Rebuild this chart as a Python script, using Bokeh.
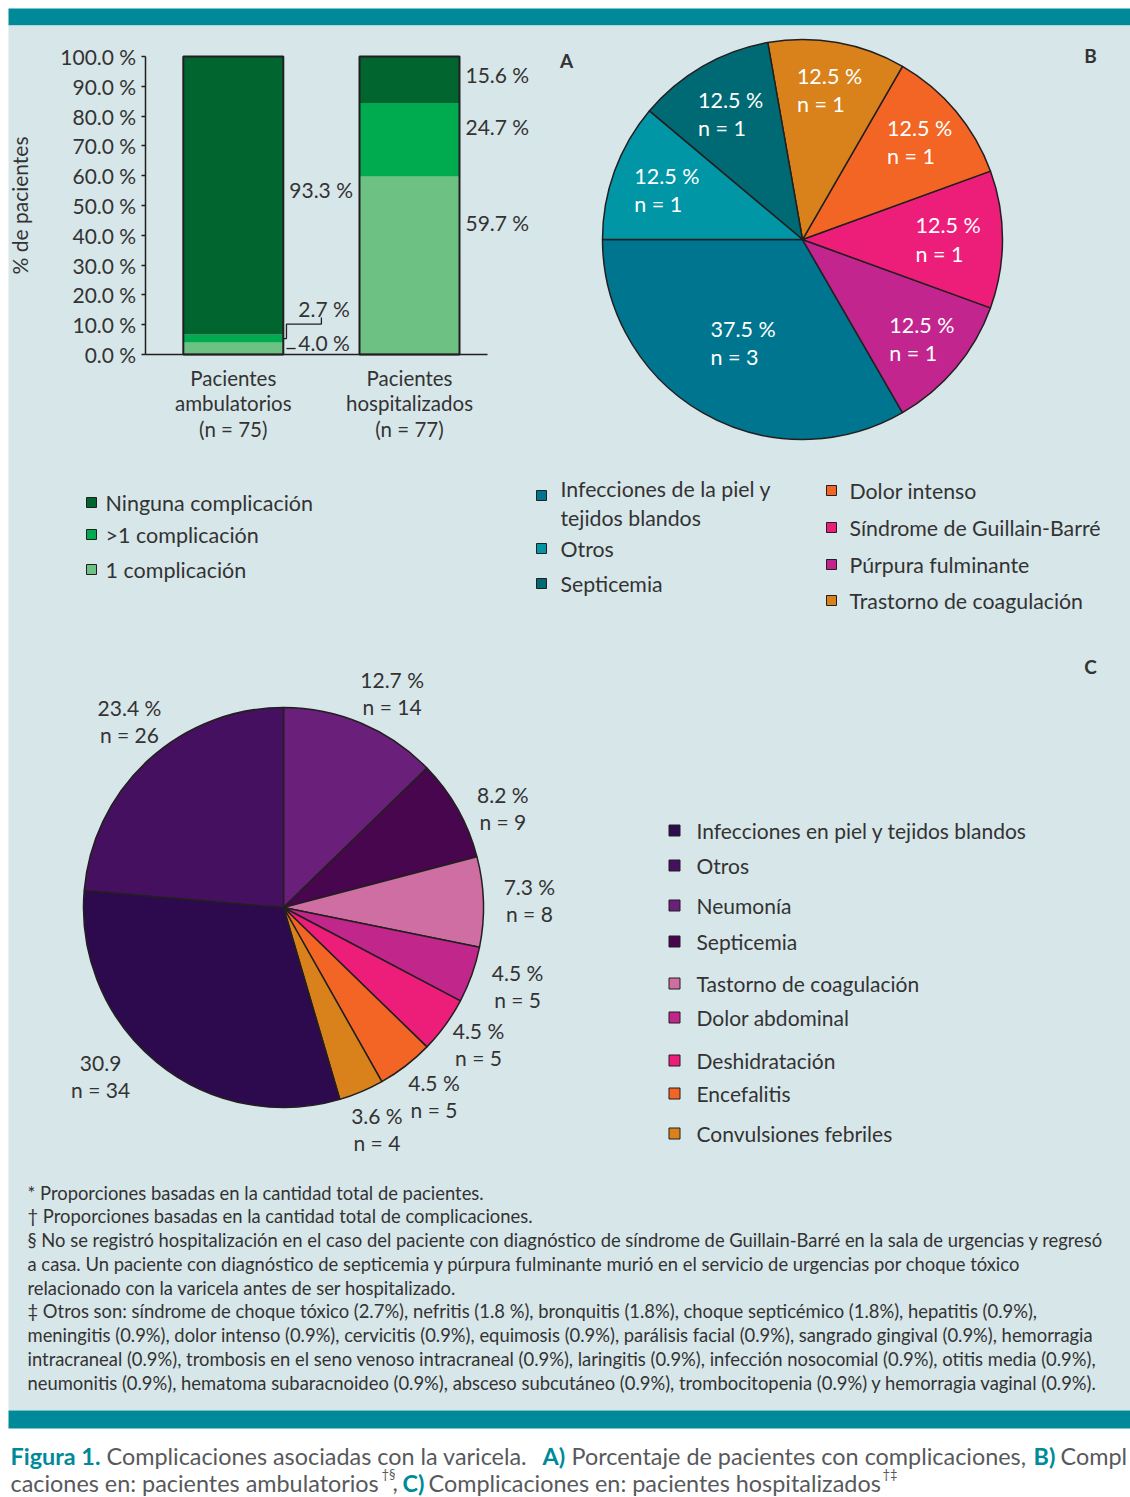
import numpy as np
from bokeh.plotting import figure
from bokeh.models import Range1d, LinearAxis, FixedTicker, BoxAnnotation, ColumnDataSource
from bokeh.core.properties import value
from bokeh.embed import file_html
from bokeh.resources import INLINE

FONT = "Lato"
INK = "#333333"
EDGE = "#231f20"
TEAL = "#008a99"
BG = "#d7e6e9"
CAP_GREY = "#58595b"
LH = 1.08   # multi-line spacing

# ---------------- data ----------------
# Panel A : stacked bars
bar_groups = ["Pacientes\nambulatorios\n(n = 75)", "Pacientes\nhospitalizados\n(n = 77)"]
series_names = ["1 complicación", ">1 complicación", "Ninguna complicación"]
one_comp = [4.0, 59.7]
multi_comp = [2.7, 24.7]
no_comp = [93.3, 15.6]
bar_colors = ["#6dc283", "#00aa4f", "#00652f"]
y_ticks = [0, 10, 20, 30, 40, 50, 60, 70, 80, 90, 100]
y_tick_labels = ["0.0 %", "10.0 %", "20.0 %", "30.0 %", "40.0 %", "50.0 %",
                 "60.0 %", "70.0 %", "80.0 %", "90.0 %", "100.0 %"]

# Panel B : complications, outpatients (pie drawn by n)
b_cats = ["Infecciones de la piel y\ntejidos blandos", "Púrpura fulminante",
          "Síndrome de Guillain-Barré", "Dolor intenso", "Trastorno de coagulación",
          "Septicemia", "Otros"]
b_n = [3, 1, 1, 1, 1, 1, 1]
b_pct = ["37.5 %", "12.5 %", "12.5 %", "12.5 %", "12.5 %", "12.5 %", "12.5 %"]
b_colors = ["#00758f", "#c2258d", "#ed1e7a", "#f26524", "#d9821b", "#006a74", "#0096a6"]
b_legend_order = [[0, 6, 5], [3, 2, 1, 4]]

# Panel C : complications, hospitalised (pie drawn by n)
c_cats = ["Neumonía", "Septicemia", "Tastorno de coagulación", "Dolor abdominal",
          "Deshidratación", "Encefalitis", "Convulsiones febriles",
          "Infecciones en piel y tejidos blandos", "Otros"]
c_n = [14, 9, 8, 5, 5, 5, 4, 34, 26]
c_pct = ["12.7 %", "8.2 %", "7.3 %", "4.5 %", "4.5 %", "4.5 %", "3.6 %", "30.9", "23.4 %"]
c_colors = ["#6a1f7b", "#47064d", "#cf6ea3", "#c1268b", "#ed1e7a", "#f26524",
            "#d9821b", "#2d0a4d", "#451060"]
c_legend_order = [7, 8, 0, 1, 2, 3, 4, 5, 6]

footnotes = [
    "* Proporciones basadas en la cantidad total de pacientes.",
    "† Proporciones basadas en la cantidad total de complicaciones.",
    "§ No se registró hospitalización en el caso del paciente con diagnóstico de síndrome de Guillain-Barré en la sala de urgencias y regresó",
    "a casa. Un paciente con diagnóstico de septicemia y púrpura fulminante murió en el servicio de urgencias por choque tóxico",
    "relacionado con la varicela antes de ser hospitalizado.",
    "‡ Otros son: síndrome de choque tóxico (2.7%), nefritis (1.8 %), bronquitis (1.8%), choque septicémico (1.8%), hepatitis (0.9%),",
    "meningitis (0.9%), dolor intenso (0.9%), cervicitis (0.9%), equimosis (0.9%), parálisis facial (0.9%), sangrado gingival (0.9%), hemorragia",
    "intracraneal (0.9%), trombosis en el seno venoso intracraneal (0.9%), laringitis (0.9%), infección nosocomial (0.9%), otitis media (0.9%),",
    "neumonitis (0.9%), hematoma subaracnoideo (0.9%), absceso subcutáneo (0.9%), trombocitopenia (0.9%) y hemorragia vaginal (0.9%).",
]

caption_line1 = [("Figura 1.", True), ("Complicaciones asociadas con la varicela.", False),
                 ("A)", True), ("Porcentaje de pacientes con complicaciones,", False),
                 ("B)", True), ("Compl", False)]
caption_line2 = [("caciones en: pacientes ambulatorios", False), ("†§", "sup"), (",", False),
                 ("C)", True), ("Complicaciones en: pacientes hospitalizados", False), ("†‡", "sup")]

# ---------------- canvas (data units = page pixels) ----------------
W, H = 1130, 1497
p = figure(width=W, height=H, x_range=Range1d(0, W), y_range=Range1d(H, 0),
           output_backend="svg", toolbar_location=None,
           x_axis_location=None, y_axis_location=None, min_border=0,
           background_fill_color="white", border_fill_color="white")
p.outline_line_color = None
p.grid.visible = False

# frame bands
for top, bottom, col in [(8, 25, TEAL), (25, 1410, BG), (1410, 1428, TEAL)]:
    p.add_layout(BoxAnnotation(left=8, right=W, top=top, bottom=bottom, fill_color=col,
                               fill_alpha=1, line_color=None, level="underlay"))

# ---------------- panel A ----------------
PX0, PX100 = 354.0, 56.0
s = (PX0 - PX100) / 100.0
p.extra_y_ranges = {"pct": Range1d((PX0 - H) / s, PX0 / s)}
CX0, CDX = 232.8, 176.2
p.extra_x_ranges = {"cat": Range1d(-CX0 / CDX, (W - CX0) / CDX)}
R = dict(x_range_name="cat", y_range_name="pct")

bx = np.arange(len(bar_groups)).astype(float)
bw = 0.5675
one = np.array(one_comp)
multi = np.array(multi_comp)
none = np.array(no_comp)
stack_bottoms = [np.zeros(len(bx)), one, one + multi]
stack_tops = [one, one + multi, one + multi + none]
for bot, top, col in zip(stack_bottoms, stack_tops, bar_colors):
    p.vbar(x=bx, bottom=bot, top=top, width=bw, fill_color=col, line_color=None, **R)
p.vbar(x=bx, bottom=0, top=stack_tops[-1], width=bw, fill_color=None,
       line_color=EDGE, line_width=2, **R)

AXIS_LOC = -0.5
xaxis = LinearAxis(x_range_name="cat", y_range_name="pct", fixed_location=0,
                   bounds=(AXIS_LOC, (487 - CX0) / CDX),
                   ticker=FixedTicker(ticks=list(bx)),
                   major_label_overrides={float(i): g for i, g in enumerate(bar_groups)},
                   major_tick_line_color=None, minor_tick_line_color=None,
                   axis_line_color=EDGE, axis_line_width=1.5,
                   major_label_standoff=5,
                   major_label_text_font=FONT, major_label_text_font_size="20.5px",
                   major_label_text_color=INK, major_label_text_line_height=LH)
p.add_layout(xaxis, "below")

yaxis = LinearAxis(x_range_name="cat", y_range_name="pct", fixed_location=AXIS_LOC,
                   bounds=(0, 100), ticker=FixedTicker(ticks=y_ticks),
                   major_label_overrides={t: l for t, l in zip(y_ticks, y_tick_labels)},
                   major_tick_in=0, major_tick_out=4, minor_tick_line_color=None,
                   major_tick_line_color=EDGE, major_tick_line_width=1.5,
                   axis_line_color=EDGE, axis_line_width=1.5,
                   major_label_standoff=5,
                   major_label_text_font=FONT, major_label_text_font_size="21px",
                   major_label_text_color=INK,
                   axis_label="% de pacientes", axis_label_standoff=26,
                   axis_label_text_font=FONT, axis_label_text_font_size="21px",
                   axis_label_text_font_style="normal", axis_label_text_color=INK)
p.add_layout(yaxis, "left")

# value labels of the bars
vals_amb = [one_comp[0], multi_comp[0], no_comp[0]]
vals_hosp = [one_comp[1], multi_comp[1], no_comp[1]]
lab_y_amb = [4.0, 15.4, 55.4]
lab_dx_amb = [15, 15, 6]
lab_y_hosp = [44.3, 76.5, 94.0]
lab_src = ColumnDataSource(dict(
    x=[bx[0] + bw / 2] * 3 + [bx[1] + bw / 2] * 3,
    y=lab_y_amb + lab_y_hosp,
    dx=lab_dx_amb + [6, 6, 6],
    t=[f"{v:.1f} %" for v in vals_amb + vals_hosp]))
p.text(x="x", y="y", text="t", x_offset="dx", source=lab_src, text_font=value(FONT),
       text_font_size="21px", text_color=INK, text_align="left", text_baseline="middle", **R)

# leader lines for the small segments of the first bar
mid_multi = one_comp[0] + multi_comp[0] / 2
edge_x = bx[0] + bw / 2
elbow_x = edge_x + 0.018
p.line(x=[edge_x, elbow_x, elbow_x, 0.5, 0.5],
       y=[mid_multi, mid_multi, 10.2, 10.2, 12.4], line_color=EDGE, line_width=1.3, **R)
p.line(x=[elbow_x, elbow_x + 0.052], y=[one_comp[0] / 2] * 2, line_color=EDGE, line_width=1.3, **R)

# legend A
leg_a_y = [502, 534, 569]
leg_a_idx = [2, 1, 0]
p.scatter(x=[91] * 3, y=leg_a_y, marker="square", size=10,
          fill_color=[bar_colors[i] for i in leg_a_idx], line_color=EDGE, line_width=1)
p.text(x=[105] * 3, y=leg_a_y, text=[series_names[i] for i in leg_a_idx], text_font=value(FONT),
       text_font_size="21.5px", text_color=INK, text_baseline="middle")

# ---------------- panel B ----------------
BX, BY, BR = 802, 239, 200
bcum = np.cumsum([0] + b_n) * 360.0 / sum(b_n)
b_start = np.radians(180 + bcum[:-1])
b_end = np.radians(180 + bcum[1:])
p.wedge(x=BX, y=BY, radius=BR, radius_units="screen", start_angle=b_start, end_angle=b_end,
        fill_color=b_colors, line_color=EDGE, line_width=1.5)
b_mid = (b_start + b_end) / 2
b_lab_r = np.array([120, 155, 145, 152, 152, 145, 145])
p.text(x=BX + b_lab_r * np.cos(b_mid), y=BY - b_lab_r * np.sin(b_mid),
       text=[f"{pc}\nn = {n}" for pc, n in zip(b_pct, b_n)], x_offset=-32,
       text_font=value(FONT), text_font_size="21.5px", text_color="white",
       text_align="left", text_baseline="middle", text_line_height=LH)

# legend B
leg_b_cols = [(541, 560, [503, 548, 583]), (831, 849, [490, 527, 564, 600])]
for (mx, tx, ys), order in zip(leg_b_cols, b_legend_order):
    my = [y - 8 if "\n" in b_cats[i] else y for y, i in zip(ys, order)]
    p.scatter(x=[mx] * len(order), y=my, marker="square", size=10,
              fill_color=[b_colors[i] for i in order], line_color=EDGE, line_width=1)
    p.text(x=[tx] * len(order), y=ys, text=[b_cats[i] for i in order], text_font=value(FONT),
           text_font_size="21.3px", text_color=INK, text_baseline="middle", text_line_height=LH)

# ---------------- panel C ----------------
CXc, CYc, CR = 283, 907, 200
ccum = np.cumsum([0] + c_n) * 360.0 / sum(c_n)
c_start = np.radians(90 - ccum[1:])
c_end = np.radians(90 - ccum[:-1])
p.wedge(x=CXc, y=CYc, radius=CR, radius_units="screen", start_angle=c_start, end_angle=c_end,
        fill_color=c_colors, line_color=EDGE, line_width=1.5)
c_lab_nudge = np.radians([-4, -5, 0, 1, 1, 1, 0, -8, -3])
c_lab_r = np.array([240, 241, 246, 247, 238, 241, 240, 249, 242])
c_ang = (c_start + c_end) / 2 + c_lab_nudge
p.text(x=CXc + c_lab_r * np.cos(c_ang), y=CYc - c_lab_r * np.sin(c_ang),
       text=[f"{pc}\nn = {n}" for pc, n in zip(c_pct, c_n)],
       text_font=value(FONT), text_font_size="21px", text_color=INK,
       text_align="center", text_baseline="middle", text_line_height=LH)

leg_c_y = [830, 865, 905, 941, 983, 1017, 1060, 1093, 1133]
p.scatter(x=[674] * len(c_legend_order), y=leg_c_y, marker="square", size=11,
          fill_color=[c_colors[i] for i in c_legend_order], line_color=EDGE, line_width=1)
p.text(x=[696] * len(c_legend_order), y=leg_c_y, text=[c_cats[i] for i in c_legend_order],
       text_font=value(FONT), text_font_size="21px", text_color=INK, text_baseline="middle")

# panel letters
p.text(x=[566, 1090, 1090], y=[60, 55, 666], text=["A", "B", "C"], text_font=value(FONT),
       text_font_size="19px", text_font_style="bold", text_color=INK,
       text_align="center", text_baseline="middle")

# ---------------- footnotes ----------------
p.text(x=[27] * len(footnotes), y=[1192 + 23.75 * i for i in range(len(footnotes))],
       text=footnotes, text_font=value(FONT), text_font_size="18.4px", text_color=INK,
       text_baseline="middle")

# ---------------- caption ----------------
cap_x1 = [10, 106, 542, 571, 1033, 1060]
cap_x2 = [10, 381, 392, 402, 428, 882]
for segs, xs, base in [(caption_line1, cap_x1, 1455), (caption_line2, cap_x2, 1482)]:
    for (txt, kind), x in zip(segs, xs):
        if kind == "sup":
            p.text(x=[x], y=[base - 9], text=[txt], text_font=value(FONT), text_font_size="13px",
                   text_color=CAP_GREY, text_baseline="alphabetic")
        else:
            p.text(x=[x], y=[base], text=[txt], text_font=value(FONT), text_font_size="23.4px",
                   text_color=TEAL if kind else CAP_GREY,
                   text_font_style="bold" if kind else "normal", text_baseline="alphabetic")

open("out.html", "w").write(file_html(p, INLINE))
